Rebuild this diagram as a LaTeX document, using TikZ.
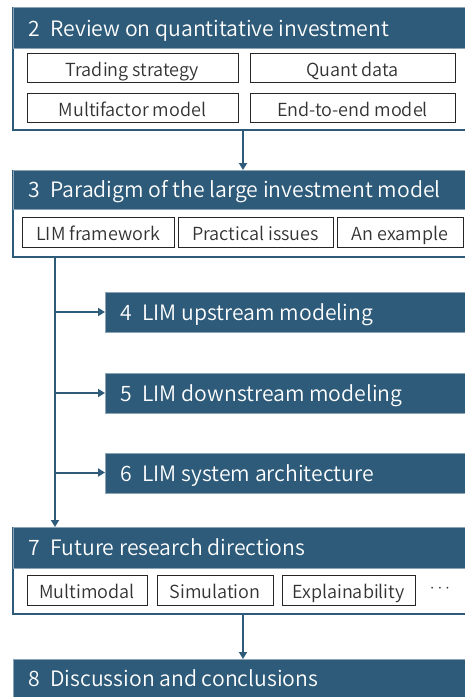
\documentclass[tikz,border=0pt]{standalone}
\usepackage{fontspec}
\IfFontExistsTF{Noto Sans CJK SC DemiLight}
  {\setmainfont{Noto Sans CJK SC DemiLight}}
  {\IfFontExistsTF{Noto Sans CJK SC Light}
    {\setmainfont{Noto Sans CJK SC Light}}
    {\setmainfont{Noto Sans CJK SC}}}
\usetikzlibrary{arrows.meta}
\definecolor{secblue}{RGB}{46,91,122}
\tikzset{
  x=1pt, y=-1pt,
  header/.style={fill=secblue, draw=secblue!55!white, line width=0.6pt},
  panel/.style={draw=secblue, line width=2.2pt, fill=white},
  hdtext/.style={text=white, font=\fontsize{21.2}{25}\selectfont, anchor=base west, inner sep=0pt},
  item/.style={draw=black!85, line width=1pt, fill=white, font=\fontsize{18}{21}\selectfont,
    text=black!80, inner sep=0pt, text height=17.5pt, text depth=0pt},
  link/.style={draw=secblue, line width=2pt, -{Triangle[length=7pt,width=8pt]}},
}
\begin{document}
\begin{tikzpicture}
\useasboundingbox (0,0) rectangle (465,697);
\fill[white] (0,0) rectangle (465,697);
\begin{scope}
\clip (0,0) rectangle (465,697);

% Section 2: review panel
\draw[panel] (13,8) rectangle (475,130);
\fill[header] (13,7) rectangle (475,48);
\node[hdtext] (h2) at (28,36) {2\hspace{0.5em}Review on quantitative investment};
\node[item, minimum width=211pt, minimum height=29pt] (s2a) at (132.5,67.5) {Trading strategy};
\node[item, minimum width=205pt, minimum height=29pt] (s2b) at (352.5,67.5) {Quant data};
\node[item, minimum width=211pt, minimum height=29pt] (s2c) at (132.5,107.5) {Multifactor model};
\node[item, minimum width=205pt, minimum height=29pt] (s2d) at (352.5,107.5) {End-to-end model};
\coordinate (p2) at (243,131);

% Section 3: paradigm panel
\draw[panel] (13,171) rectangle (475,257);
\fill[header] (13,170) rectangle (475,209);
\coordinate (t3) at (243,170);
\node[hdtext] (h3) at (28,197.5) {3\hspace{0.5em}Paradigm of the large investment model};
\node[item, minimum width=152pt, minimum height=30pt] (s3a) at (98,232) {LIM framework};
\node[item, minimum width=155pt, minimum height=30pt] (s3b) at (255.5,232) {Practical issues};
\node[item, minimum width=126pt, minimum height=30pt] (s3c) at (400,232) {An example};
\coordinate (p3) at (55,258);

% Sections 4-6: branch boxes
\fill[header] (105,292) rectangle (475,332);
\node[hdtext] (h4) at (120,320) {4\hspace{0.5em}LIM upstream modeling};
\coordinate (t4) at (105,312);
\fill[header] (105,373) rectangle (475,413);
\node[hdtext] (h5) at (120,401) {5\hspace{0.5em}LIM downstream modeling};
\coordinate (t5) at (105,393);
\fill[header] (105,453) rectangle (475,493);
\node[hdtext] (h6) at (120,481) {6\hspace{0.5em}LIM system architecture};
\coordinate (t6) at (105,472.5);

% Section 7: future directions panel
\draw[panel] (13,528) rectangle (475,614);
\fill[header] (13,527) rectangle (475,568);
\coordinate (t7) at (55,527);
\node[hdtext] (h7) at (28,555.5) {7\hspace{0.5em}Future research directions};
\node[item, minimum width=120pt, minimum height=30pt] (s7a) at (87,590) {Multimodal};
\node[item, minimum width=116pt, minimum height=30pt] (s7b) at (215,590) {Simulation};
\node[item, minimum width=133pt, minimum height=30pt] (s7c) at (348.5,590) {Explainability};
\node[font=\fontsize{18}{21}\selectfont, text=black!80, inner sep=0pt] (s7d) at (440,589) {$\cdots$};
\coordinate (p7) at (243,615);

% Section 8: conclusions
\fill[header] (13,659) rectangle (475,705);
\coordinate (t8) at (243,659);
\node[hdtext] (h8) at (28,686.5) {8\hspace{0.5em}Discussion and conclusions};

% Connectors
\draw[link] (p2) -- (t3);
\draw[link] (p3) -- (t7);
\draw[link] (55,312) -- (t4);
\draw[link] (55,393) -- (t5);
\draw[link] (55,472.5) -- (t6);
\draw[link] (p7) -- (t8);
\end{scope}
\end{tikzpicture}
\end{document}
